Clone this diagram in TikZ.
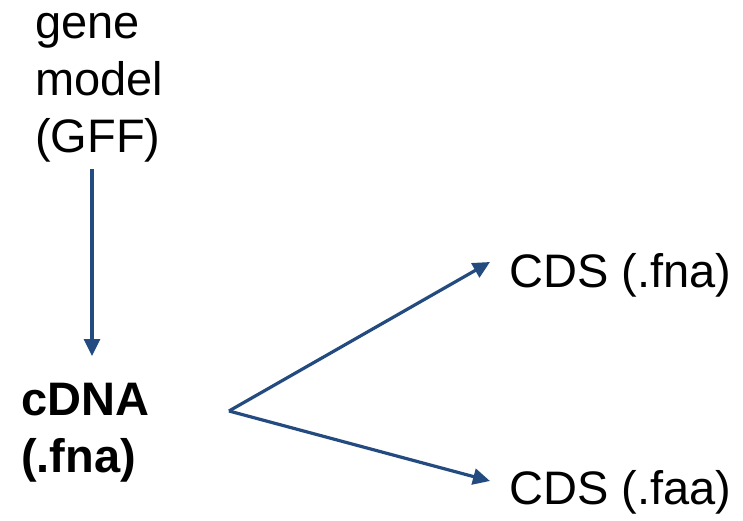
\documentclass[tikz,border=0pt]{standalone}
\usepackage{fontspec}
\setmainfont{Liberation Sans}
\usetikzlibrary{arrows.meta}
\definecolor{flowblue}{RGB}{35,75,128}
\begin{document}
\begin{tikzpicture}[x=1pt,y=-1pt,
  lbl/.style={inner sep=0pt, anchor=base west, align=left,
    font=\fontsize{47}{57}\selectfont},
  flow/.style={draw=flowblue, line width=3.2pt,
    -{Triangle[length=17pt,width=16pt]}}]
  \useasboundingbox (0,0) rectangle (743,521);
  % labels (anchored at the baseline of their last line)
  \node[lbl] (gff) at (35,153) {gene\\model\\(GFF)};
  \node[lbl, font=\fontsize{47}{57}\selectfont\bfseries] (cdna) at (21,472) {cDNA\\(.fna)};
  \node[lbl] (fna) at (509,287) {CDS (.fna)};
  \node[lbl] (faa) at (509,504) {CDS (.faa)};
  % connector end points
  \coordinate (top) at (92,169);
  \coordinate (bot) at (92,356);
  \coordinate (fork) at (229,411);
  \coordinate (upend) at (490,262);
  \coordinate (loend) at (490,481);
  % connectors
  \draw[flow] (top) -- (bot);
  \draw[flow] (fork) -- (upend);
  \draw[flow] (fork) -- (loend);
\end{tikzpicture}
\end{document}
